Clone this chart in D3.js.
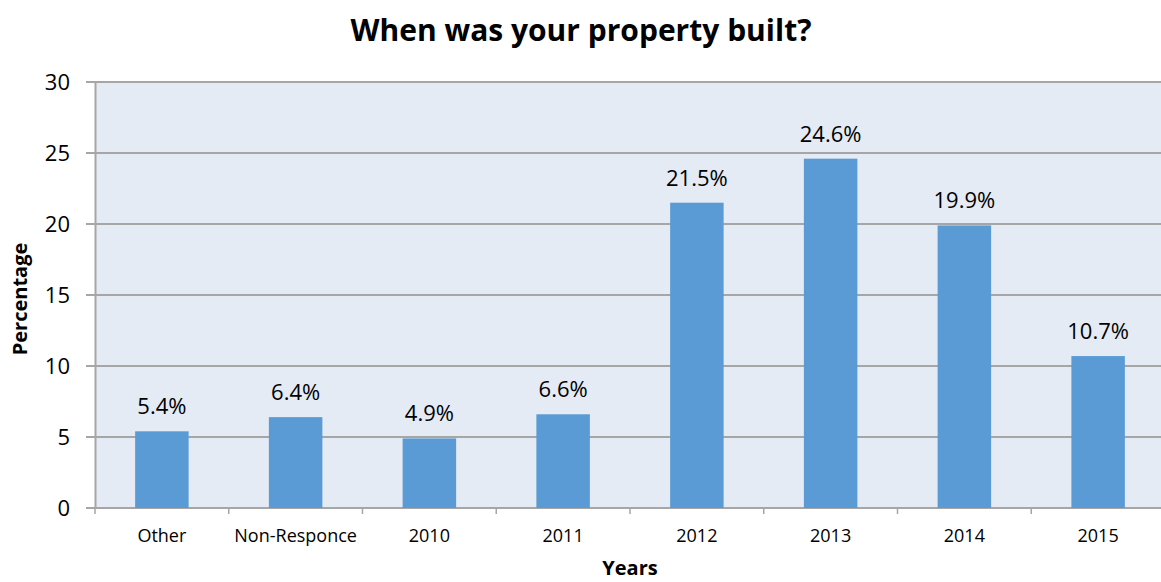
<!DOCTYPE html>
<html>
<head>
<meta charset="utf-8">
<script src="https://cdn.jsdelivr.net/npm/d3@7/dist/d3.min.js"></script>
<style>
  body { margin: 0; background: #fff; }
  svg, svg text { font-family: "Open Sans", "Noto Sans", sans-serif; }
</style>
</head>
<body>
<svg class="chart" width="1161" height="582"></svg>
<script>
var categories = ["Other", "Non-Responce", "2010", "2011", "2012", "2013", "2014", "2015"];
var percentages = [5.4, 6.4, 4.9, 6.6, 21.5, 24.6, 19.9, 10.7];
var yTicks = [0, 5, 10, 15, 20, 25, 30];

var margin = {top: 82, right: -4, bottom: 74, left: 95};
var width = 1161 - margin.left - margin.right;
var height = 582 - margin.top - margin.bottom;

var x = d3.scaleBand()
    .domain(categories)
    .range([0, width])
    .paddingInner(0.6)
    .paddingOuter(0.3);

var y = d3.scaleLinear()
    .domain([0, 30])
    .range([height, 0]);

var chart = d3.select('.chart');

var main = chart.append('g')
    .attr('transform', 'translate(' + margin.left + ',' + margin.top + ')');

// plot background
main.append('rect')
    .attr('width', width)
    .attr('height', height)
    .style('fill', '#e4ebf5');

// gridlines
main.selectAll('.grid')
    .data(yTicks)
    .enter().append('line')
    .attr('x1', -9)
    .attr('x2', width)
    .attr('y1', function(d) { return y(d); })
    .attr('y2', function(d) { return y(d); })
    .style('stroke', '#a6a6a6')
    .style('stroke-width', '2px');

// y axis
var yAxis = d3.axisLeft()
    .scale(y)
    .tickValues(yTicks)
    .tickSize(0)
    .tickPadding(25);

var gy = main.append('g').call(yAxis);
gy.attr('font-family', null);
gy.select('.domain').style('stroke', '#a6a6a6').style('stroke-width', '2px');
gy.selectAll('text')
    .style('font-size', '22px')
    .style('fill', '#000');

// x axis ticks at category boundaries
var step = x.step();
var boundaries = d3.range(categories.length + 1).map(function(i) { return i * step; });
main.selectAll('.xtick')
    .data(boundaries)
    .enter().append('line')
    .attr('x1', function(d) { return d; })
    .attr('x2', function(d) { return d; })
    .attr('y1', height)
    .attr('y2', height + 6)
    .style('stroke', '#a6a6a6')
    .style('stroke-width', '1.5px');

// bars
main.selectAll('.bar')
    .data(percentages)
    .enter().append('rect')
    .attr('x', function(d, i) { return x(categories[i]); })
    .attr('y', function(d) { return y(d); })
    .attr('width', x.bandwidth())
    .attr('height', function(d) { return height - y(d); })
    .style('fill', '#5b9bd5');

// data labels
main.selectAll('.label')
    .data(percentages)
    .enter().append('text')
    .attr('x', function(d, i) { return x(categories[i]) + x.bandwidth() / 2; })
    .attr('y', function(d) { return y(d) - 17; })
    .attr('text-anchor', 'middle')
    .style('font-size', '22px')
    .text(function(d) { return d.toFixed(1) + '%'; });

// category labels
main.selectAll('.cat')
    .data(categories)
    .enter().append('text')
    .attr('x', function(d) { return x(d) + x.bandwidth() / 2; })
    .attr('y', height + 34)
    .attr('text-anchor', 'middle')
    .style('font-size', '18px')
    .text(function(d) { return d; });

// title
chart.append('text')
    .attr('x', 581)
    .attr('y', 41)
    .attr('text-anchor', 'middle')
    .style('font-size', '30px')
    .style('font-weight', 'bold')
    .text('When was your property built?');

// axis titles
chart.append('text')
    .attr('x', 630)
    .attr('y', 575)
    .attr('text-anchor', 'middle')
    .style('font-size', '20px')
    .style('font-weight', 'bold')
    .text('Years');

chart.append('text')
    .attr('transform', 'translate(27,' + (margin.top + height / 2 + 4) + ') rotate(-90)')
    .attr('text-anchor', 'middle')
    .style('font-size', '20px')
    .style('font-weight', 'bold')
    .text('Percentage');
</script>
</body>
</html>
